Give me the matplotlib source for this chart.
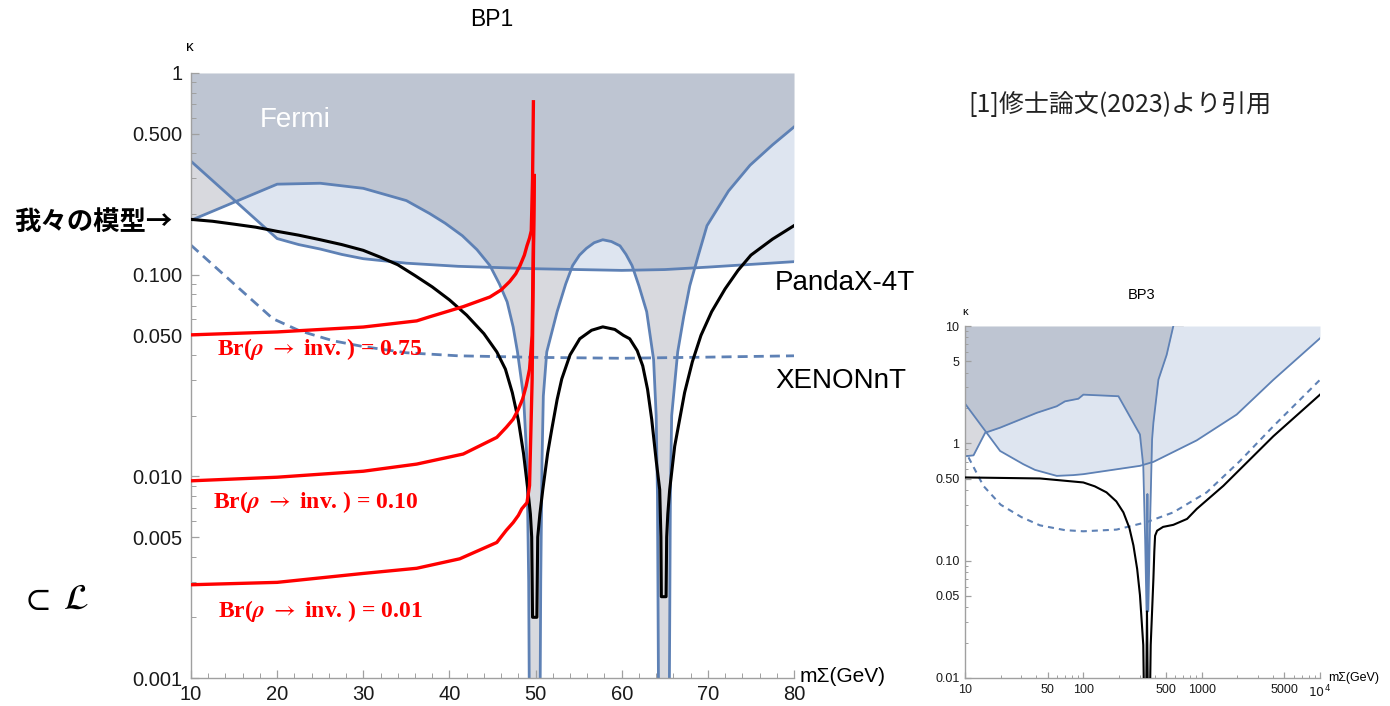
import matplotlib
matplotlib.use('Agg')
import matplotlib.pyplot as plt
from matplotlib.ticker import NullFormatter

# ---- BP1 (left, large panel) ----
bp1_fermi_x = [10, 20, 25, 30, 35, 37.7, 39.5, 41.5, 43.2, 44.7, 45.8, 46.7, 47.4, 47.9, 48.6,
               49.0, 49.2, 49.3, 50.5, 50.6, 50.75, 50.9, 51.3, 52.5, 53.5, 54.3, 55.1, 55.9,
               56.8, 57.8, 58.8, 59.8, 60.5, 61.2, 62.0, 62.9, 63.7, 64.0, 64.15, 64.3, 65.5,
               65.65, 65.8, 66.5, 67.2, 67.9, 68.9, 69.9, 72.4, 74.9, 77.5, 80]
bp1_fermi_k = [0.186, 0.281, 0.284, 0.268, 0.233, 0.201, 0.180, 0.156, 0.133, 0.111, 0.090,
               0.0733, 0.055, 0.0414, 0.025, 0.012, 0.003, 0.0005, 0.0005, 0.003, 0.012,
               0.025, 0.0414, 0.0655, 0.090, 0.111, 0.125, 0.135, 0.144, 0.149, 0.146, 0.139,
               0.126, 0.111, 0.088, 0.0655, 0.038, 0.02, 0.008, 0.0005, 0.0005, 0.008, 0.02,
               0.0414, 0.062, 0.088, 0.125, 0.175, 0.26, 0.349, 0.44, 0.54]

bp1_panda_x = [10, 20, 22.5, 25, 27.5, 30, 35, 41, 50, 60, 65, 70, 80]
bp1_panda_k = [0.365, 0.151, 0.141, 0.134, 0.126, 0.120, 0.114, 0.110, 0.107, 0.105, 0.106,
               0.109, 0.116]

bp1_xenon_x = [10, 15, 19.5, 22.6, 26.5, 30, 35, 41, 50, 60, 70, 80]
bp1_xenon_k = [0.14, 0.090, 0.0605, 0.0527, 0.047, 0.044, 0.041, 0.0396, 0.0389, 0.0385,
               0.039, 0.0396]

bp1_model_x = [10, 12.5, 15, 17.5, 20, 22.5, 25, 27.5, 30, 32, 34, 36, 38, 40, 42, 44, 45.5,
               46.5, 47.3, 48, 48.6, 49.1, 49.4, 49.55, 49.65, 50.15, 50.25, 50.5, 50.84,
               51.4, 51.88, 52.5, 53.04, 54, 55.13, 56.5, 57.8, 59.2, 60.2, 60.93, 61.8, 62.44,
               63.0, 63.48, 64.0, 64.41, 64.55, 64.6, 65.15, 65.22, 65.35, 65.57, 66.15, 66.73,
               67.3, 68.2, 69.2, 70.44, 72, 73.5, 75, 77.5, 80]
bp1_model_k = [0.188, 0.184, 0.178, 0.172, 0.164, 0.157, 0.149, 0.141, 0.132, 0.122, 0.112,
               0.099, 0.087, 0.075, 0.063, 0.051, 0.0414, 0.034, 0.026, 0.019, 0.013, 0.0086,
               0.0065, 0.005, 0.002, 0.002, 0.005, 0.0065, 0.0086, 0.013, 0.0171, 0.024,
               0.0304, 0.040, 0.0481, 0.053, 0.0551, 0.0535, 0.050, 0.0481, 0.042, 0.0353,
               0.027, 0.0192, 0.012, 0.0086, 0.005, 0.00253, 0.00253, 0.005, 0.0065, 0.0086,
               0.0141, 0.0192, 0.026, 0.037, 0.050, 0.0655, 0.085, 0.105, 0.125, 0.150, 0.175]

bp1_br075_x = [10, 20, 30, 36.2, 37.7, 41.6, 44.7, 46.0, 47.0, 47.7, 48.2, 48.7, 49.0, 49.3,
               49.5, 49.65, 49.75]
bp1_br075_k = [0.0503, 0.052, 0.055, 0.059, 0.0618, 0.0694, 0.0775, 0.084, 0.0925, 0.101,
               0.111, 0.125, 0.139, 0.152, 0.165, 0.3, 0.72]
bp1_br010_x = [10, 20, 30, 36.2, 41.6, 45.5, 46.6, 47.4, 48.0, 48.5, 48.9, 49.3, 49.6, 49.85]
bp1_br010_k = [0.0095, 0.0099, 0.0106, 0.0115, 0.0129, 0.0156, 0.0175, 0.0192, 0.0215, 0.0242,
               0.028, 0.034, 0.05, 0.31]
bp1_br001_x = [10, 20, 30, 36.2, 41.2, 45.5, 46.6, 47.4, 48.0, 48.4, 49.0, 49.3, 49.6, 49.85]
bp1_br001_k = [0.0029, 0.00298, 0.0033, 0.0035, 0.0039, 0.0047, 0.0054, 0.0059, 0.0064, 0.0069,
               0.0074, 0.009, 0.03, 0.31]
br_labels = ['0.75', '0.10', '0.01']
br_label_pos = [(13.0, 0.0427), (12.55, 0.00744), (13.1, 0.00216)]

bp1_yticks = [0.001, 0.005, 0.01, 0.05, 0.1, 0.5, 1]
bp1_yticklabels = ['0.001', '0.005', '0.010', '0.050', '0.100', '0.500', '1']
bp1_xticks = [10, 20, 30, 40, 50, 60, 70, 80]

# ---- BP3 (right, small panel) ----
bp3_fermi_x = [10, 11.8, 14.8, 19.8, 40.4, 59.6, 70, 90.8, 100, 198, 301, 321, 333, 342,
               348, 354, 366, 381, 391, 431, 506, 576, 700]
bp3_fermi_k = [0.776, 0.79, 1.23, 1.36, 1.82, 2.07, 2.28, 2.40, 2.60, 2.52, 1.19, 0.643,
               0.15, 0.037, 0.37, 0.037, 0.2, 1.08, 1.5, 3.49, 5.68, 10, 20]

bp3_panda_x = [10, 19.8, 31.1, 39, 59.6, 82.2, 100, 301, 391, 908, 1977, 4036, 10000]
bp3_panda_k = [2.18, 0.861, 0.664, 0.594, 0.528, 0.536, 0.546, 0.643, 0.695, 1.06, 1.76,
               3.48, 7.86]

bp3_xenon_x = [10.7, 14.3, 20, 30, 43, 70, 100, 191, 343, 576, 1103, 2109, 4036, 10000]
bp3_xenon_k = [0.76, 0.434, 0.30, 0.235, 0.20, 0.182, 0.178, 0.184, 0.213, 0.258, 0.382,
               0.708, 1.40, 3.48]

bp3_model_x = [10, 43, 100, 125, 157, 190, 218, 245, 265, 285, 301, 321, 327, 339, 345, 352,
               364, 371, 391, 398, 404, 420, 472, 576, 753, 908, 1524, 4036, 10000]
bp3_model_k = [0.512, 0.502, 0.464, 0.43, 0.382, 0.32, 0.258, 0.19, 0.135, 0.085, 0.0508,
               0.0191, 0.005, 0.005, 0.037, 0.005, 0.005, 0.0191, 0.0703, 0.12, 0.163, 0.180,
               0.194, 0.202, 0.227, 0.276, 0.434, 1.15, 2.6]

bp3_yticks = [0.01, 0.05, 0.1, 0.5, 1, 5, 10]
bp3_yticklabels = ['0.01', '0.05', '0.10', '0.50', '1', '5', '10']
bp3_xticks = [10, 50, 100, 500, 1000, 5000, 10000]
bp3_xticklabels = ['10', '50', '100', '500', '1000', '5000', '$10^4$']

FIG_W, FIG_H = 1390, 706
BLUE = '#5E81B5'
FERMI = '#3F455A'
AXIS_GREY = '#a0a0a0'
CJK = ['Noto Sans CJK JP', 'DejaVu Sans']
SERIF = ['Liberation Serif', 'DejaVu Serif']


def fig_xy(px, py):
    return px / FIG_W, 1 - py / FIG_H


def log_minor(decades):
    return [k * d for d in decades for k in (2, 3, 4, 6, 7, 8, 9)]


def style_axes(ax, labelsize, major_len, minor_len):
    for side in ['top', 'right']:
        ax.spines[side].set_visible(False)
    for side in ['left', 'bottom']:
        ax.spines[side].set_color(AXIS_GREY)
        ax.spines[side].set_linewidth(1.0)
    ax.tick_params(which='both', direction='in', color=AXIS_GREY, labelcolor='#1a1a1a',
                   labelsize=labelsize)
    ax.tick_params(which='major', length=major_len, width=0.9)
    ax.tick_params(which='minor', length=minor_len, width=0.7)
    ax.yaxis.set_minor_formatter(NullFormatter())
    ax.xaxis.set_minor_formatter(NullFormatter())


def draw_bp1(fig):
    l, b = fig_xy(191, 678)
    ax = fig.add_axes([l, b, 603 / FIG_W, 605 / FIG_H])
    ax.set_yscale('log')
    ax.set_xlim(10, 80)
    ax.set_ylim(0.001, 1)

    # excluded regions (overlap gives the darker shade)
    ax.fill_between(bp1_panda_x, bp1_panda_k, 1, color=BLUE, alpha=0.2, lw=0, zorder=1)
    ax.fill_between(bp1_fermi_x, bp1_fermi_k, 1, color=FERMI, alpha=0.2, lw=0, zorder=1)

    ax.plot(bp1_panda_x, bp1_panda_k, color=BLUE, lw=2, zorder=2)
    ax.plot(bp1_fermi_x, bp1_fermi_k, color=BLUE, lw=2, zorder=2)
    ax.plot(bp1_xenon_x, bp1_xenon_k, color=BLUE, lw=2, ls=(0, (3.6, 2.2)), zorder=2)
    ax.plot(bp1_model_x, bp1_model_k, color='black', lw=2.2, zorder=3)

    for xs, ks in [(bp1_br075_x, bp1_br075_k), (bp1_br010_x, bp1_br010_k),
                   (bp1_br001_x, bp1_br001_k)]:
        ax.plot(xs, ks, color='red', lw=2.4, zorder=4)
    for lab, (x, k) in zip(br_labels, br_label_pos):
        ax.text(x, k, r'Br($\boldsymbol{\rho}$ $\rightarrow$ inv. ) = ' + lab, color='red',
                fontsize=17, weight='bold', family=SERIF, math_fontfamily='stix',
                ha='left', va='center', zorder=5)

    ax.text(18.0, 0.583, 'Fermi', color='white', fontsize=20, ha='left', va='center')

    ax.set_xticks(bp1_xticks)
    ax.set_xticks([x for x in range(12, 80, 2) if x % 10], minor=True)
    ax.set_yticks(bp1_yticks, bp1_yticklabels)
    ax.set_yticks(log_minor([0.001, 0.01, 0.1]), minor=True)
    style_axes(ax, 14.5, 6, 3.5)
    ax.tick_params(axis='y', pad=6)
    ax.tick_params(axis='x', pad=5)
    return ax


def draw_bp3(fig):
    l, b = fig_xy(965, 678)
    ax = fig.add_axes([l, b, 355 / FIG_W, 352 / FIG_H])
    ax.set_xscale('log')
    ax.set_yscale('log')
    ax.set_xlim(10, 10000)
    ax.set_ylim(0.01, 10)

    ax.fill_between(bp3_panda_x, bp3_panda_k, 10, color=BLUE, alpha=0.2, lw=0, zorder=1)
    ax.fill_between(bp3_fermi_x, bp3_fermi_k, 10, color=FERMI, alpha=0.2, lw=0, zorder=1)

    ax.plot(bp3_panda_x, bp3_panda_k, color=BLUE, lw=1.3, zorder=2)
    ax.plot(bp3_fermi_x, bp3_fermi_k, color=BLUE, lw=1.3, zorder=2)
    ax.plot(bp3_xenon_x, bp3_xenon_k, color=BLUE, lw=1.5, ls=(0, (2.9, 2.4)), zorder=2)
    ax.plot(bp3_model_x, bp3_model_k, color='black', lw=1.5, zorder=3)

    ax.set_xticks(bp3_xticks, bp3_xticklabels)
    ax.set_xticks(log_minor([10, 100, 1000]), minor=True)
    ax.set_yticks(bp3_yticks, bp3_yticklabels)
    ax.set_yticks(log_minor([0.01, 0.1, 1]), minor=True)
    style_axes(ax, 9, 4, 2.2)
    ax.tick_params(axis='y', pad=4)
    ax.tick_params(axis='x', pad=4)
    return ax


def main():
    plt.rcParams['font.family'] = ['Liberation Sans', 'DejaVu Sans']
    fig = plt.figure(figsize=(FIG_W / 100, FIG_H / 100), dpi=100)

    draw_bp1(fig)
    draw_bp3(fig)

    # panel titles and axis labels
    fig.text(*fig_xy(492, 20), 'BP1', fontsize=16.5, ha='center', va='center')
    fig.text(*fig_xy(190, 47), 'κ', fontsize=11, ha='center', va='center')
    fig.text(*fig_xy(800, 677), 'mΣ(GeV)', fontsize=15, ha='left', va='center')
    fig.text(*fig_xy(1142, 295), 'BP3', fontsize=10.5, ha='center', va='center')
    fig.text(*fig_xy(965, 312), 'κ', fontsize=8, ha='center', va='center')
    fig.text(*fig_xy(1328, 678), 'mΣ(GeV)', fontsize=9, ha='left', va='center')

    # annotations around the panels
    fig.text(*fig_xy(775, 283), 'PandaX-4T', fontsize=20, ha='left', va='center')
    fig.text(*fig_xy(775, 381), 'XENONnT', fontsize=20, ha='left', va='center')
    fig.text(*fig_xy(968, 105), '[1]修士論文(2023)より引用', fontsize=18, family=CJK,
             color='#222222', ha='left', va='center')
    fig.text(*fig_xy(14, 222), '我々の模型→', fontsize=19, family=CJK, weight='bold',
             ha='left', va='center')
    fig.text(*fig_xy(20, 600), r'$\subset\ \mathcal{L}$', fontsize=26, math_fontfamily='stix',
             ha='left', va='center')

    fig.savefig('out.png', dpi=100)


if __name__ == "__main__":
    main()
